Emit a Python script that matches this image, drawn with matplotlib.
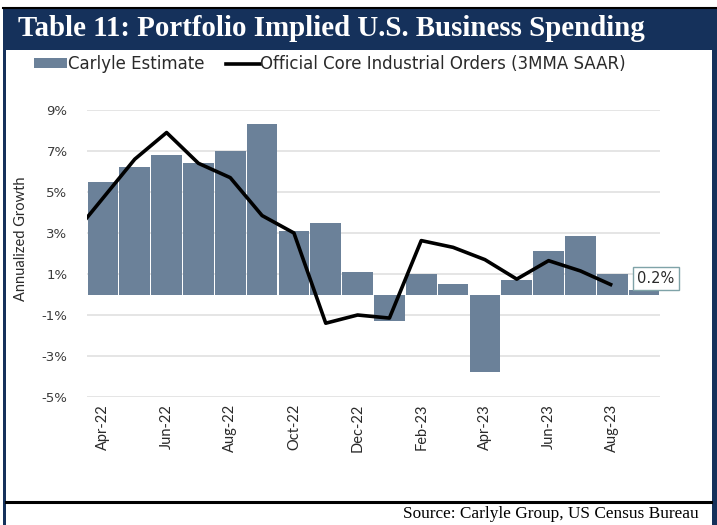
import matplotlib
matplotlib.use("Agg")
import matplotlib.pyplot as plt
from matplotlib.patches import Rectangle, Patch
from matplotlib.lines import Line2D

# ---- data ----
months = ["Apr-22", "May-22", "Jun-22", "Jul-22", "Aug-22", "Sep-22", "Oct-22", "Nov-22",
          "Dec-22", "Jan-23", "Feb-23", "Mar-23", "Apr-23", "May-23", "Jun-23", "Jul-23",
          "Aug-23", "Sep-23"]
carlyle_estimate = [5.5, 6.2, 6.8, 6.4, 7.0, 8.3, 3.1, 3.5, 1.1, -1.3, 1.0, 0.5, -3.8, 0.7,
                    2.1, 2.85, 1.0, 0.2]
# official series starts one month earlier (Mar-22, clipped at left edge) and ends Aug-23
official_months = ["Mar-22"] + months[:17]
official_orders = [2.8, 4.7, 6.6, 7.9, 6.4, 5.7, 3.85, 3.0, -1.4, -1.0, -1.15, 2.63, 2.3,
                   1.7, 0.75, 1.65, 1.15, 0.45]
y_ticks = [-5, -3, -1, 1, 3, 5, 7, 9]

NAVY = "#15315B"
BAR = "#6B8199"
GRID = "#E3E3E3"

W, H = 717, 525
fig = plt.figure(figsize=(W / 100, H / 100), dpi=100)


def fx(px):
    return px / W


def fy(py):
    return 1 - py / H


# frame
fig.patches.append(Rectangle((fx(3), fy(525)), fx(714), fy(8) - fy(525),
                             transform=fig.transFigure, facecolor=NAVY, edgecolor="none",
                             zorder=-2))
fig.patches.append(Rectangle((fx(6), fy(525)), fx(706), fy(50) - fy(525),
                             transform=fig.transFigure, facecolor="white", edgecolor="none",
                             zorder=-1))
fig.add_artist(Line2D([fx(3), fx(717)], [fy(8), fy(8)], transform=fig.transFigure,
                      color="black", lw=1.5))
fig.add_artist(Line2D([fx(6), fx(711)], [fy(501.5), fy(501.5)], transform=fig.transFigure,
                      color="black", lw=2.2))

fig.text(fx(18), fy(29), "Table 11: Portfolio Implied U.S. Business Spending",
         ha="left", va="center", color="white", fontsize=20.8, fontweight="bold",
         family="Liberation Serif")
fig.text(fx(699), fy(514), "Source: Carlyle Group, US Census Bureau", ha="right", va="center",
         fontsize=12.4, family="Liberation Serif", color="black")

ax = fig.add_axes([fx(87), fy(397), fx(660) - fx(87), fy(110) - fy(397)])
ax.set_zorder(1)
ax.patch.set_alpha(0)

x_bars = list(range(len(months)))
x_line = [i - 1 for i in range(len(official_months))]

ax.bar(x_bars, carlyle_estimate, width=0.96, color=BAR, edgecolor="none", zorder=2)
ax.plot(x_line, official_orders, color="black", lw=2.6, solid_joinstyle="round",
        solid_capstyle="butt", zorder=3)

ax.set_xlim(-0.5, len(months) - 0.5)
ax.set_ylim(-5, 9)
ax.set_yticks(y_ticks)
ax.set_yticklabels([f"{t}%" for t in y_ticks], fontsize=9.5, family="DejaVu Sans",
                   color="#3A3A3A")
ax.set_xticks(x_bars[::2])
ax.set_xticklabels(months[::2], rotation=90, fontsize=10.5, family="Lato", color="#2A2A2A")
ax.tick_params(axis="y", length=0, pad=14)
ax.tick_params(axis="x", length=0, pad=5)
ax.grid(axis="y", color=GRID, lw=1.3, zorder=0)
ax.set_axisbelow(True)
for s in ax.spines.values():
    s.set_visible(False)

ax.set_ylabel("Annualized Growth", fontsize=10.5, family="Lato", color="#2A2A2A")
ax.yaxis.set_label_coords((28 - 87) / 573, (397 - 239) / 287)

ax.annotate(f"{carlyle_estimate[-1]}%", xy=(x_bars[-1], carlyle_estimate[-1]),
            xytext=(8.3, 8.6), textcoords="offset points", ha="center", va="center",
            fontsize=10.5, family="DejaVu Sans", color="#2A2A2A",
            bbox=dict(boxstyle="square,pad=0.3", fc="white", ec="#7FA3A8", lw=1), zorder=5)

handles = [Patch(facecolor=BAR, edgecolor="none"),
           Line2D([0], [0], color="black", lw=2.6)]
fig.legend(handles, ["Carlyle Estimate", "Official Core Industrial Orders (3MMA SAAR)"],
           loc="center left", bbox_to_anchor=(fx(34), fy(64)), ncol=2, frameon=False,
           prop={"family": "DejaVu Sans", "size": 12}, handlelength=2.0,
           handleheight=0.55, handletextpad=0.05, columnspacing=1.3, borderaxespad=0,
           borderpad=0, labelcolor="#2A2A2A")

fig.savefig("out.png", dpi=100)
